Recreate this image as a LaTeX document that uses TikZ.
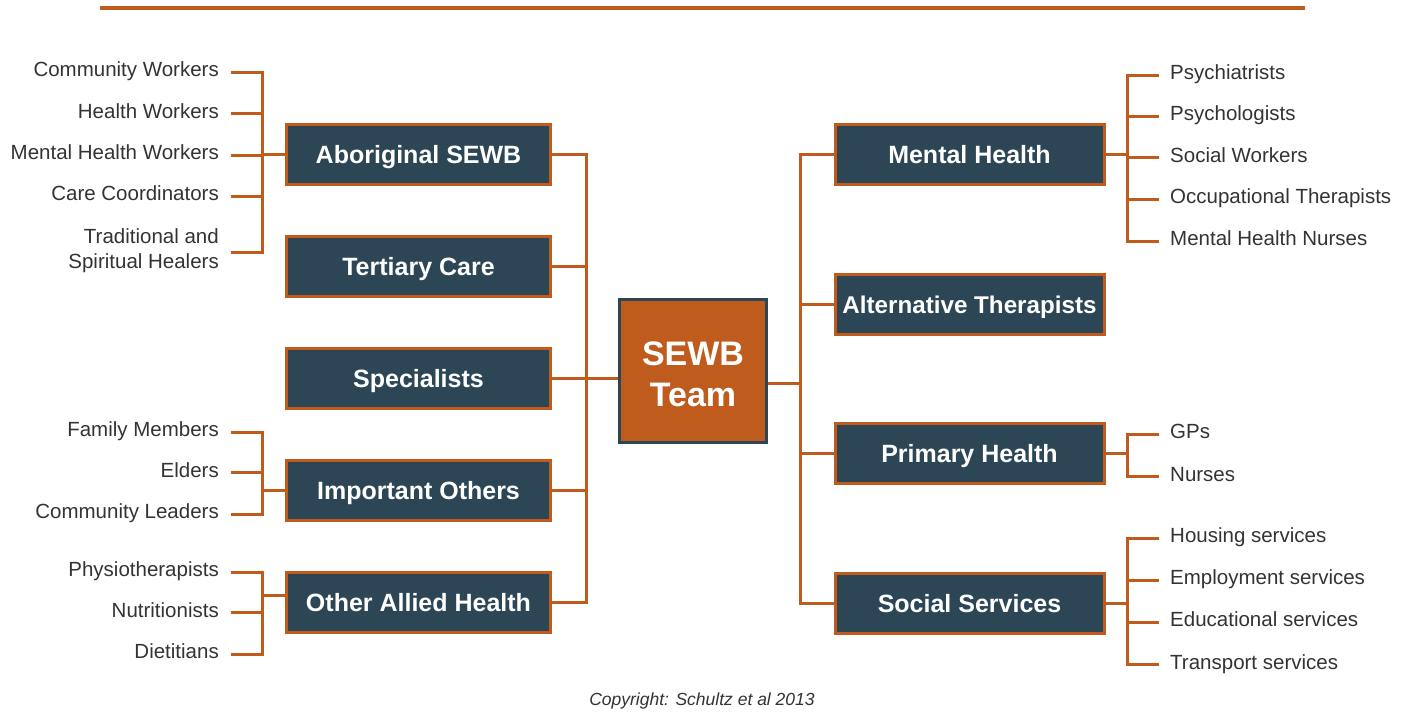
\documentclass[tikz,border=0pt]{standalone}
\usepackage{fontspec}
\setmainfont{Liberation Sans}
\usetikzlibrary{positioning}
\definecolor{sewbOrange}{HTML}{BF5B1C}
\definecolor{sewbSlate}{HTML}{2C4656}
\definecolor{sewbText}{HTML}{333333}

\begin{document}
\begin{tikzpicture}[x=1pt, y=-1pt, node distance=112pt, on grid]
        % Define block styles
        \tikzstyle{group} = [rectangle, draw=sewbOrange, line width=3pt, fill=sewbSlate, text=white, font=\fontsize{25}{30}\selectfont\bfseries, text height=18pt, text depth=0pt, minimum width=264pt, minimum height=60pt, inner sep=0pt]
        \tikzstyle{groupR} = [group, minimum width=269pt]
        \tikzstyle{team} = [rectangle, draw=sewbSlate, line width=3pt, fill=sewbOrange, text=white, font=\fontsize{34}{41}\selectfont\bfseries, align=center, text height=70pt, text depth=0pt, minimum width=147pt, minimum height=143pt, inner sep=0pt]
        \tikzstyle{member} = [text=sewbText, font=\fontsize{20.5}{25}\selectfont, text height=14.4pt, text depth=5.1pt, inner ysep=0pt]
        \tikzstyle{memberL} = [member, anchor=east, align=right, inner xsep=12pt]
        \tikzstyle{memberR} = [member, anchor=west, align=left, inner xsep=11pt]
        \tikzstyle{link} = [draw=sewbOrange, line width=3pt]

        \useasboundingbox (0,0) rectangle (1413,713);

        % Top rule
        \draw[sewbOrange, line width=4.5pt] (100,8) -- (1305,8);

        % Nodes
        \node[team] (sewb) at (693,371) {SEWB\\Team};

        \node[group] (aborig) at (418.5,154.5) {Aboriginal SEWB};
        \node[group, below=of aborig] (tertiary) {Tertiary Care};
        \node[group, below=of tertiary] (spec) {Specialists};
        \node[group, below=of spec] (important) {Important Others};
        \node[group, below=of important] (allied) {Other Allied Health};

        \node[groupR] (mental) at (969.5,154.5) {Mental Health};
        \node[groupR, below=149.5pt of mental, font=\fontsize{24.2}{30}\selectfont\bfseries] (altther) {Alternative Therapists};
        \node[groupR, below=149.5pt of altther] (primary) {Primary Health};
        \node[groupR, below=149.5pt of primary] (social) {Social Services};

        % Left members
        \node[memberL] (cw) at (231,72) {Community Workers};
        \node[memberL] (hw) at (231,113.5) {Health Workers};
        \node[memberL] (mhw) at (231,155) {Mental Health Workers};
        \node[memberL] (cc) at (231,196) {Care Coordinators};
        \node[memberL, text height=39pt] (tsh) at (231,252) {Traditional and\\Spiritual Healers};

        \node[memberL] (fm) at (231,432) {Family Members};
        \node[memberL] (eld) at (231,472.5) {Elders};
        \node[memberL] (cl) at (231,514) {Community Leaders};

        \node[memberL] (physio) at (231,572) {Physiotherapists};
        \node[memberL] (nutri) at (231,612.5) {Nutritionists};
        \node[memberL] (diet) at (231,654) {Dietitians};

        % Right members
        \node[memberR] (psychia) at (1159,75) {Psychiatrists};
        \node[memberR] (psycho) at (1159,116) {Psychologists};
        \node[memberR] (sw) at (1159,157.5) {Social Workers};
        \node[memberR] (ot) at (1159,199) {Occupational Therapists};
        \node[memberR] (mhn) at (1159,241) {Mental Health Nurses};

        \node[memberR] (gps) at (1159,434) {GPs};
        \node[memberR] (nurses) at (1159,476.5) {Nurses};

        \node[memberR] (housing) at (1159,538) {Housing services};
        \node[memberR] (employ) at (1159,580) {Employment services};
        \node[memberR] (educ) at (1159,622) {Educational services};
        \node[memberR] (transp) at (1159,664.5) {Transport services};

        \node[text=sewbText, font=\fontsize{17.5}{20}\selectfont\itshape, anchor=base] (copy) at (702,705) {Copyright: Schultz et al 2013};

        % Bar positions
        \coordinate (barA) at (262,0);
        \coordinate (barI) at (262,0);
        \coordinate (barO) at (262,0);
        \coordinate (barM) at (1127,0);
        \coordinate (barP) at (1127,0);
        \coordinate (barS) at (1127,0);
        \coordinate (trunkL) at (586,0);
        \coordinate (trunkR) at (800,383);

        % Trunks
        \draw[link] (aborig.east) -| (trunkL |- allied.east) -- (allied.east);
        \draw[link] (tertiary.east) -- (trunkL |- tertiary.east);
        \draw[link] (important.east) -- (trunkL |- important.east);
        \draw[link] (spec.east) -- (sewb.west |- spec.east);

        \draw[link] (mental.west) -| (trunkR |- social.west) -- (social.west);
        \draw[link] (altther.west) -- (trunkR |- altther.west);
        \draw[link] (primary.west) -- (trunkR |- primary.west);
        \draw[link] (sewb.east |- trunkR) -- (trunkR);

        % Left brackets
        \draw[link] (cw.east) -| (barA |- tsh.east) -- (tsh.east);
        \foreach \n in {hw, mhw, cc}
          \draw[link] (\n.east) -- (barA |- \n.east);
        \draw[link] (barA |- aborig.west) -- (aborig.west);

        \draw[link] (fm.east) -| (barI |- cl.east) -- (cl.east);
        \draw[link] (eld.east) -- (barI |- eld.east);
        \draw[link] (barI |- important.west) -- (important.west);

        \draw[link] (physio.east) -| (barO |- diet.east) -- (diet.east);
        \draw[link] (nutri.east) -- (barO |- nutri.east);
        \draw[link] ([yshift=7pt]barO |- allied.west) -- ([yshift=7pt]allied.west);

        % Right brackets
        \draw[link] (psychia.west) -| (barM |- mhn.west) -- (mhn.west);
        \foreach \n in {psycho, sw, ot}
          \draw[link] (\n.west) -- (barM |- \n.west);
        \draw[link] (mental.east) -- (barM |- mental.east);

        \draw[link] (gps.west) -| (barP |- nurses.west) -- (nurses.west);
        \draw[link] (primary.east) -- (barP |- primary.east);

        \draw[link] (housing.west) -| (barS |- transp.west) -- (transp.west);
        \foreach \n in {employ, educ}
          \draw[link] (\n.west) -- (barS |- \n.west);
        \draw[link] (social.east) -- (barS |- social.east);

\end{tikzpicture}
\end{document}
